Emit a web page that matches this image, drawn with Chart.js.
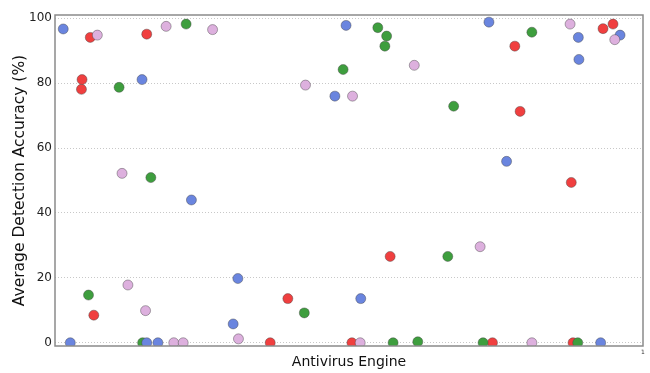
<!DOCTYPE html>
<html>
<head>
<meta charset="utf-8">
<script src="https://cdn.jsdelivr.net/npm/chart.js@4.4.1/dist/chart.umd.min.js"></script>
<style>
  html, body { margin: 0; padding: 0; background: #fff; }
  #wrap { width: 650px; height: 373px; }
</style>
</head>
<body>
<div id="wrap"><canvas id="chart"></canvas></div>
<script>
// Precisión media de detección por motor antivirus (posición relativa del motor en X).
const yTicks = [0, 20, 40, 60, 80, 100];
const xTicks = [1];

const blueX = [0.014, 0.026, 0.148, 0.156, 0.175, 0.232, 0.303, 0.311, 0.476, 0.495, 0.520, 0.738, 0.768, 0.890, 0.891, 0.928, 0.961];
const blueY = [96.7, 0, 81.1, 0, 0, 44.0, 5.8, 19.8, 76.0, 97.8, 13.6, 98.8, 55.9, 94.1, 87.3, 0, 94.8];

const redX = [0.046, 0.045, 0.060, 0.066, 0.156, 0.366, 0.396, 0.505, 0.570, 0.744, 0.782, 0.791, 0.878, 0.881, 0.932, 0.949];
const redY = [81.1, 78.1, 94.1, 8.5, 95.1, 0, 13.6, 0, 26.6, 0, 91.4, 71.3, 49.4, 0, 96.8, 98.2];

const greenX = [0.057, 0.109, 0.149, 0.163, 0.223, 0.424, 0.490, 0.549, 0.561, 0.564, 0.575, 0.617, 0.668, 0.678, 0.728, 0.811, 0.889];
const greenY = [14.7, 78.7, 0, 50.9, 98.2, 9.2, 84.2, 97.1, 91.4, 94.5, 0, 0.3, 26.6, 72.9, 0, 95.7, 0];

const pinkX = [0.072, 0.114, 0.124, 0.154, 0.189, 0.202, 0.218, 0.268, 0.312, 0.426, 0.506, 0.519, 0.611, 0.723, 0.811, 0.876, 0.952];
const pinkY = [94.8, 52.2, 17.8, 9.9, 97.5, 0, 0, 96.5, 1.2, 79.4, 76.0, 0, 85.5, 29.6, 0, 98.2, 93.4];

function toPoints(xs, ys) {
  return xs.map((x, i) => ({ x, y: ys[i] }));
}

function serie(xs, ys, color, order) {
  return {
    data: toPoints(xs, ys),
    backgroundColor: color,
    borderColor: "rgba(70,70,70,0.55)",
    borderWidth: 0.8,
    pointRadius: 5,
    pointHoverRadius: 5,
    order
  };
}

// Marco gris alrededor del área de trazado (estilo matplotlib).
const frame = {
  id: "frame",
  afterDraw(chart) {
    const { ctx, chartArea: a } = chart;
    ctx.save();
    ctx.strokeStyle = "#8a8a8a";
    ctx.lineWidth = 1.5;
    ctx.strokeRect(a.left, a.top, a.right - a.left, a.bottom - a.top);
    ctx.restore();
  }
};

new Chart(document.getElementById("chart").getContext("2d"), {
  type: "scatter",
  data: {
    datasets: [
      serie(redX, redY, "#f03f3f", 3),
      serie(greenX, greenY, "#3e9e3e", 2),
      serie(blueX, blueY, "#6a85df", 1),
      serie(pinkX, pinkY, "#ddb0de", 0)
    ]
  },
  options: {
    responsive: true,
    maintainAspectRatio: false,
    animation: false,
    layout: { padding: { top: 15, right: 7, left: 0, bottom: 0 } },
    plugins: {
      legend: { display: false },
      tooltip: { enabled: false }
    },
    scales: {
      x: {
        type: "linear",
        min: 0,
        max: 1,
        afterBuildTicks(scale) {
          scale.ticks = xTicks.map((v) => ({ value: v }));
        },
        afterFit(scale) {
          scale.height = 27;
        },
        grid: { display: false, drawTicks: true, tickLength: 3, color: "#8a8a8a" },
        border: { display: false },
        ticks: {
          padding: 0,
          color: "#333",
          font: { family: "DejaVu Sans", size: 6 },
          maxRotation: 0
        },
        title: {
          display: true,
          text: "Antivirus Engine",
          color: "#111",
          font: { family: "DejaVu Sans", size: 14 },
          padding: { top: 0, bottom: 2 }
        }
      },
      y: {
        min: -1,
        max: 101,
        afterBuildTicks(scale) {
          scale.ticks = yTicks.map((v) => ({ value: v }));
        },
        afterFit(scale) {
          scale.width = 55;
        },
        grid: {
          color: "#c8c8c8",
          lineWidth: 1,
          drawTicks: false
        },
        border: { display: false, dash: [1, 2] },
        ticks: {
          padding: 3,
          color: "#222",
          font: { family: "DejaVu Sans", size: 12 }
        },
        title: {
          display: true,
          text: "Average Detection Accuracy (%)",
          color: "#111",
          font: { family: "DejaVu Sans", size: 15.5 },
          padding: { top: 11, bottom: 0 }
        }
      }
    }
  },
  plugins: [frame]
});
</script>
</body>
</html>
